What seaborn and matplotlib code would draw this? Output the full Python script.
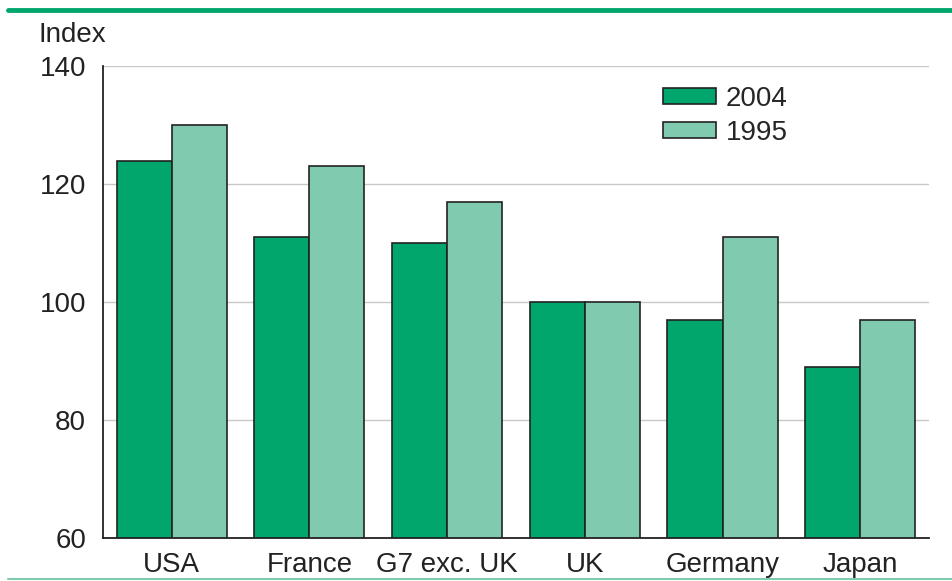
import pandas as pd
import matplotlib
matplotlib.use("Agg")
import matplotlib.pyplot as plt
from matplotlib.lines import Line2D
import seaborn as sns

# === DATOS ===
paises = ["USA", "France", "G7 exc. UK", "UK", "Germany", "Japan"]
valores_2004 = [124, 111, 110, 100, 97, 89]
valores_1995 = [130, 123, 117, 100, 111, 97]
anios = ["2004", "1995"]

df = pd.DataFrame({
    "Pais": paises * 2,
    "Anio": [anios[0]] * len(paises) + [anios[1]] * len(paises),
    "Indice": valores_2004 + valores_1995,
})

verde_oscuro = "#00A66B"
verde_claro = "#80CBAF"
tam = 20

# === VISUALIZACION ===
sns.set_style("white")
plt.rcParams["font.family"] = ["Liberation Sans", "DejaVu Sans"]

fig = plt.figure(figsize=(9.52, 5.81), dpi=100)
ax = fig.add_axes([0.108, 0.074, 0.868, 0.812])

sns.barplot(data=df, x="Pais", y="Indice", hue="Anio", hue_order=anios,
            palette=[verde_oscuro, verde_claro], saturation=1, width=0.8,
            edgecolor="#222222", linewidth=1.2, ax=ax)

ax.set_ylim(60, 140)
ax.set_xlim(-0.5, 5.5)
ax.set_yticks([60, 80, 100, 120, 140])
ax.yaxis.grid(True, color="#c8c8c8", linewidth=1)
ax.set_axisbelow(True)
ax.set_xlabel("")
ax.set_ylabel("")

for lado in ["top", "right"]:
    ax.spines[lado].set_visible(False)
for lado in ["left", "bottom"]:
    ax.spines[lado].set_color("#222222")
    ax.spines[lado].set_linewidth(1.3)

ax.tick_params(axis="x", which="major", length=0, labelsize=tam, pad=10, colors="#222222")
ax.set_xticks([i + 0.5 for i in range(len(paises) - 1)], minor=True)
ax.tick_params(axis="x", which="minor", length=6, width=1.3, direction="out", color="#222222")
ax.tick_params(axis="y", length=7, width=1.3, direction="out", labelsize=tam,
               color="#222222", labelcolor="#222222", pad=5)

ax.legend(loc="upper left", bbox_to_anchor=(0.665, 0.982), frameon=False,
          fontsize=tam, handlelength=1.9, handleheight=0.5, labelspacing=0.3,
          handletextpad=0.35, borderaxespad=0)

fig.text(0.04, 0.94, "Index", fontsize=tam, color="#222222", ha="left", va="center")

# lineas verdes del marco
fig.add_artist(Line2D([0.008, 1.0], [0.983, 0.983], color=verde_oscuro, linewidth=3.5,
                      transform=fig.transFigure))
fig.add_artist(Line2D([0.008, 1.0], [0.003, 0.003], color=verde_claro, linewidth=1.5,
                      transform=fig.transFigure))

fig.savefig("out.png", dpi=100)
